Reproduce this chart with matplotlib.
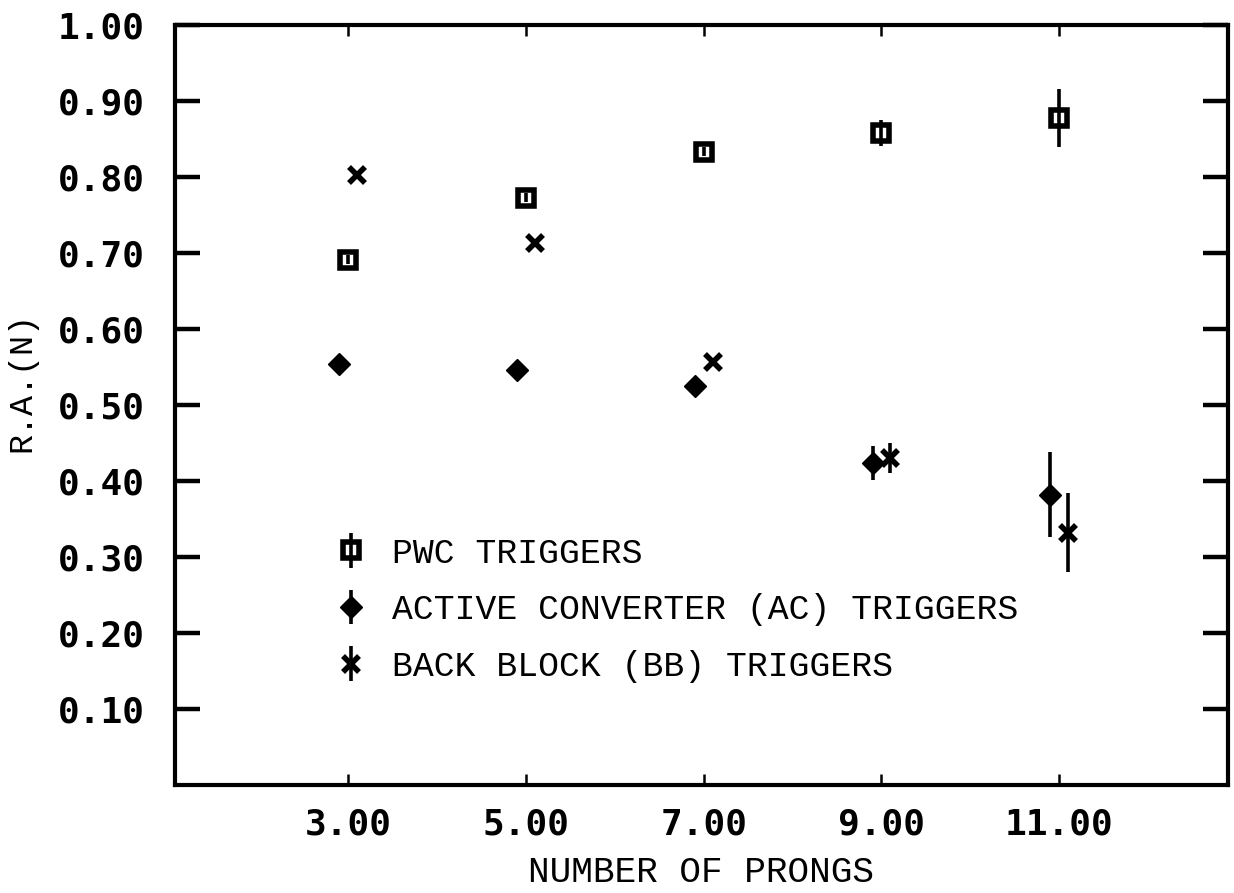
import matplotlib
matplotlib.use("Agg")
import matplotlib.pyplot as plt
from matplotlib.ticker import FixedLocator, FormatStrFormatter

# Number of prongs and relative acceptance for each trigger type
prongs = [3.0, 5.0, 7.0, 9.0, 11.0]

pwc_ra = [0.691, 0.773, 0.833, 0.858, 0.878]
pwc_err = [0.006, 0.006, 0.006, 0.017, 0.038]

ac_ra = [0.554, 0.546, 0.525, 0.424, 0.382]
ac_err = [0.0, 0.0, 0.0, 0.022, 0.056]

bb_ra = [0.803, 0.713, 0.557, 0.430, 0.332]
bb_err = [0.0, 0.0, 0.0, 0.020, 0.052]

x_ticks = [3.0, 5.0, 7.0, 9.0, 11.0]
y_ticks = [0.10, 0.20, 0.30, 0.40, 0.50, 0.60, 0.70, 0.80, 0.90, 1.00]

labels = ["PWC TRIGGERS",
          "ACTIVE CONVERTER (AC) TRIGGERS",
          "BACK BLOCK (BB) TRIGGERS"]

shift = 0.1  # horizontal offset separating AC and BB points

fig = plt.figure(figsize=(12.34, 8.93), dpi=100)
ax = fig.add_axes([0.1418, 0.1209, 0.8533, 0.8511])

common = dict(linestyle="none", color="black", ecolor="black",
              elinewidth=2.6, capsize=0)

h1 = ax.errorbar(prongs, pwc_ra, yerr=pwc_err, marker="s", ms=11,
                 mfc="none", mec="black", mew=4.0, **common)
h2 = ax.errorbar([p - shift for p in prongs], ac_ra, yerr=ac_err,
                 marker="D", ms=11, mfc="black", mec="black", **common)
h3 = ax.errorbar([p + shift for p in prongs], bb_ra, yerr=bb_err,
                 marker="x", ms=12, mew=4.0, **common)

ax.set_xlim(1.05, 12.9)
ax.set_ylim(0.0, 1.0)

ax.xaxis.set_major_locator(FixedLocator(x_ticks))
ax.yaxis.set_major_locator(FixedLocator(y_ticks))
ax.xaxis.set_major_formatter(FormatStrFormatter("%.2f"))
ax.yaxis.set_major_formatter(FormatStrFormatter("%.2f"))

for lab in ax.get_xticklabels() + ax.get_yticklabels():
    lab.set_fontfamily("DejaVu Sans Mono")
    lab.set_fontweight("bold")
    lab.set_fontsize(26)

ax.tick_params(axis="y", which="major", direction="in", length=18,
               width=3.2, left=True, right=True, pad=22)
ax.tick_params(axis="x", which="major", direction="in", length=8,
               width=1.8, top=True, bottom=True, pad=16)

for sp in ax.spines.values():
    sp.set_linewidth(3.0)
    sp.set_color("black")

ax.set_xlabel("NUMBER OF PRONGS", family="Liberation Mono", fontsize=26,
              labelpad=10)
ax.set_ylabel("R.A.(N)", family="Liberation Mono", fontsize=24)
ax.yaxis.set_label_coords(-0.131, 0.53)

leg = ax.legend([h1, h2, h3], labels, loc="upper left",
                bbox_to_anchor=(0.152, 0.327), frameon=False,
                prop=dict(family="Liberation Mono", size=25),
                handlelength=0.9, handletextpad=0.75, labelspacing=0.68,
                borderpad=0, borderaxespad=0)

fig.savefig("out.png", dpi=100, facecolor="white")
